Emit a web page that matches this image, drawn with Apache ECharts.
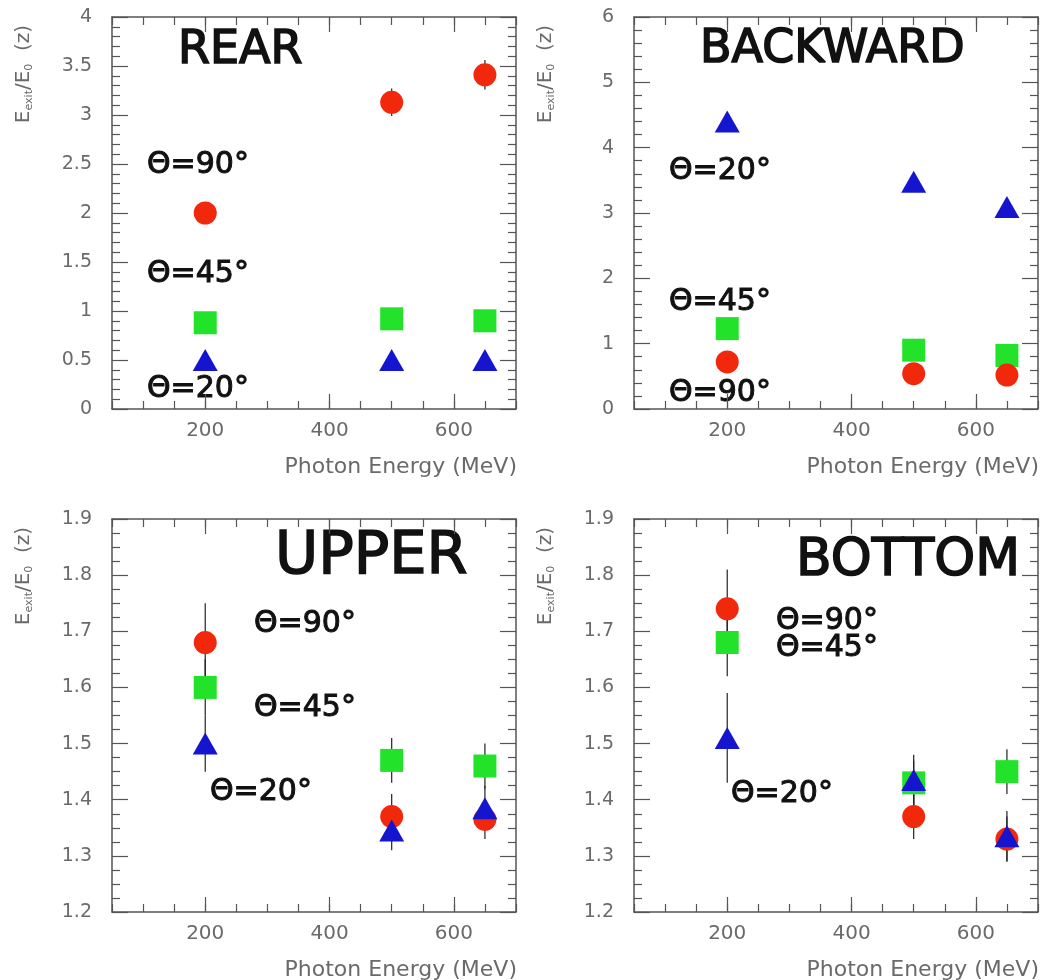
<!DOCTYPE html>
<html><head><meta charset="utf-8">
<script src="https://cdn.jsdelivr.net/npm/echarts@6/dist/echarts.min.js"></script>
<style>html,body{margin:0;padding:0;background:#fff}#c{width:1042px;height:980px}</style>
</head><body><div id="c"></div>
<script>
// ---------------- data ----------------
const energies = [200, 500, 650];
const xTickLabels = [200, 400, 600];
const panelTitles = ['REAR', 'BACKWARD', 'UPPER', 'BOTTOM'];
const thetaLabels = ['Θ=90°', 'Θ=45°', 'Θ=20°'];

const rear90 = [2.00, 3.13, 3.41];
const rear90Err = [0.08, 0.14, 0.15];
const rear45 = [0.88, 0.92, 0.90];
const rear45Err = [0.05, 0.05, 0.05];
const rear20 = [0.50, 0.50, 0.50];
const rear20Err = [0.05, 0.05, 0.05];

const back90 = [0.72, 0.54, 0.52];
const back90Err = [0.06, 0.06, 0.06];
const back45 = [1.23, 0.90, 0.82];
const back45Err = [0.06, 0.06, 0.06];
const back20 = [4.40, 3.48, 3.09];
const back20Err = [0.08, 0.08, 0.08];

const up90 = [1.68, 1.37, 1.365];
const up90Err = [0.07, 0.04, 0.035];
const up45 = [1.60, 1.47, 1.46];
const up45Err = [0.05, 0.04, 0.04];
const up20 = [1.50, 1.345, 1.385];
const up20Err = [0.05, 0.035, 0.04];

const bot90 = [1.74, 1.37, 1.33];
const bot90Err = [0.07, 0.04, 0.04];
const bot45 = [1.68, 1.43, 1.45];
const bot45Err = [0.06, 0.04, 0.04];
const bot20 = [1.51, 1.435, 1.335];
const bot20Err = [0.08, 0.045, 0.045];

const yMins = [0, 0, 1.2, 1.2];
const yMaxs = [4, 6, 1.9, 1.9];
const yIntervals = [0.5, 1, 0.1, 0.1];
const yMinorSplits = [5, 5, 4, 4];
const xMin = 50, xMax = 700, xStep = 50;

const panelSeries = [
  [[rear90, rear90Err], [rear45, rear45Err], [rear20, rear20Err]],
  [[back90, back90Err], [back45, back45Err], [back20, back20Err]],
  [[up90, up90Err], [up45, up45Err], [up20, up20Err]],
  [[bot90, bot90Err], [bot45, bot45Err], [bot20, bot20Err]]
];

// ---------------- layout / style ----------------
const grids = [
  {left: 112, top: 17, width: 404, height: 392},
  {left: 634, top: 17, width: 404, height: 392},
  {left: 112, top: 519, width: 404, height: 393},
  {left: 634, top: 519, width: 404, height: 393}
];
const titleLayout = [
  {x: 178, y: 51, size: 46},
  {x: 700, y: 50, size: 46},
  {x: 275, y: 558, size: 59},
  {x: 796, y: 561, size: 52}
];
// theta label positions per panel, in order 90,45,20
const thetaLayout = [
  [[147, 165], [147, 274], [147, 389]],
  [[669, 393], [669, 302], [669, 171]],
  [[254, 624], [254, 708], [210, 792]],
  [[776, 621], [776, 648], [731, 794]]
];
const markerStyles = [
  {symbol: 'circle', size: 23, color: '#f2280c', z: 3},
  {symbol: 'rect', size: 23, color: '#22e32a', z: 2},
  {symbol: 'triangle', size: [25, 22], color: '#1515d0', z: 4}
];
const frameColor = '#555';
const labelColor = '#6a6a6a';
const font = 'DejaVu Sans';

const xAxes = [], yAxes = [], series = [], graphic = [];

grids.forEach((g, i) => {
  const axisLine = {show: true, onZero: false, lineStyle: {color: frameColor, width: 1.5}};
  const tickStyle = {color: frameColor, width: 1.2};
  const xBase = {gridIndex: i, type: 'value', min: xMin, max: xMax, interval: xStep, splitLine: {show: false}};
  xAxes.push(Object.assign({}, xBase, {
    position: 'bottom', axisLine,
    axisTick: {show: true, inside: true, length: 8, lineStyle: tickStyle},
    axisLabel: {show: true, margin: 12, color: labelColor, fontSize: 20, fontFamily: font,
      formatter: v => xTickLabels.indexOf(v) >= 0 ? String(v) : ''}
  }));
  const mainX = xAxes.length - 1;
  xAxes.push(Object.assign({}, xBase, {
    position: 'bottom', axisLine: {show: false, onZero: false},
    axisTick: {show: true, inside: true, length: 15, lineStyle: tickStyle, customValues: xTickLabels},
    axisLabel: {show: false}
  }));
  xAxes.push(Object.assign({}, xBase, {
    position: 'top', axisLine,
    axisTick: {show: true, inside: true, length: 8, lineStyle: tickStyle},
    axisLabel: {show: false}
  }));
  xAxes.push(Object.assign({}, xBase, {
    position: 'top', axisLine: {show: false, onZero: false},
    axisTick: {show: true, inside: true, length: 15, lineStyle: tickStyle, customValues: xTickLabels},
    axisLabel: {show: false}
  }));
  const yBase = {gridIndex: i, type: 'value', min: yMins[i], max: yMaxs[i], interval: yIntervals[i],
    splitLine: {show: false}, axisLine,
    axisTick: {show: true, inside: true, length: 16, lineStyle: tickStyle},
    minorTick: {show: true, splitNumber: yMinorSplits[i], length: 8, lineStyle: tickStyle}};
  yAxes.push(Object.assign({}, yBase, {
    position: 'left',
    axisLabel: {show: true, margin: 20, color: labelColor, fontSize: 19, fontFamily: font}
  }));
  const mainY = yAxes.length - 1;
  yAxes.push(Object.assign({}, yBase, {position: 'right', axisLabel: {show: false}}));

  const errData = [];
  panelSeries[i].forEach(([vals, errs]) => {
    vals.forEach((v, k) => errData.push([energies[k], v - errs[k], v + errs[k]]));
  });
  series.push({
    type: 'custom', xAxisIndex: mainX, yAxisIndex: mainY, z: 1, silent: true,
    data: errData, encode: {x: 0, y: [1, 2]},
    renderItem: (params, api) => {
      const p1 = api.coord([api.value(0), api.value(1)]);
      const p2 = api.coord([api.value(0), api.value(2)]);
      return {type: 'line', shape: {x1: p1[0], y1: p1[1], x2: p2[0], y2: p2[1]},
        style: {stroke: '#222', lineWidth: 1.2}};
    }
  });
  panelSeries[i].forEach(([vals], s) => {
    const m = markerStyles[s];
    series.push({
      type: 'scatter', xAxisIndex: mainX, yAxisIndex: mainY, z: m.z, silent: true,
      symbol: m.symbol, symbolSize: m.size, itemStyle: {color: m.color, opacity: 1},
      data: vals.map((v, k) => [energies[k], v])
    });
  });

  graphic.push({type: 'text', x: titleLayout[i].x, y: titleLayout[i].y, silent: true,
    style: {text: panelTitles[i], fontFamily: font, fontSize: titleLayout[i].size, fill: '#111',
      stroke: '#111', lineWidth: 1.6, align: 'left', verticalAlign: 'middle'}});
  thetaLayout[i].forEach((pos, s) => {
    graphic.push({type: 'text', x: pos[0], y: pos[1], silent: true,
      style: {text: thetaLabels[s], fontFamily: font, fontSize: 30, fill: '#111',
        stroke: '#111', lineWidth: 1, align: 'left', verticalAlign: 'middle'}});
  });
  graphic.push({type: 'text', x: g.left + g.width + 1, y: g.top + g.height + 58, silent: true,
    style: {text: 'Photon Energy (MeV)', fontFamily: font, fontSize: 22, fill: labelColor,
      align: 'right', verticalAlign: 'middle'}});
  graphic.push({type: 'text', x: g.left - 87, y: g.top + 57, rotation: Math.PI / 2, silent: true,
    style: {text: '{b|E}{s|exit}{b|/E}{s|0}{b|  (z)}', fontFamily: font, fill: labelColor,
      align: 'center', verticalAlign: 'middle',
      rich: {
        b: {fontSize: 20, fontFamily: font, fill: labelColor, lineHeight: 22, verticalAlign: 'top'},
        s: {fontSize: 11, fontFamily: font, fill: labelColor, lineHeight: 12, padding: [10, 0, 0, 0], verticalAlign: 'top'}
      }}});
});

const chart = echarts.init(document.getElementById('c'), null, {renderer: 'canvas'});
chart.setOption({
  animation: false,
  backgroundColor: '#fff',
  grid: grids.map(g => Object.assign({containLabel: false, outerBoundsMode: 'none'}, g)),
  xAxis: xAxes,
  yAxis: yAxes,
  series: series,
  graphic: graphic
});
</script></body></html>
